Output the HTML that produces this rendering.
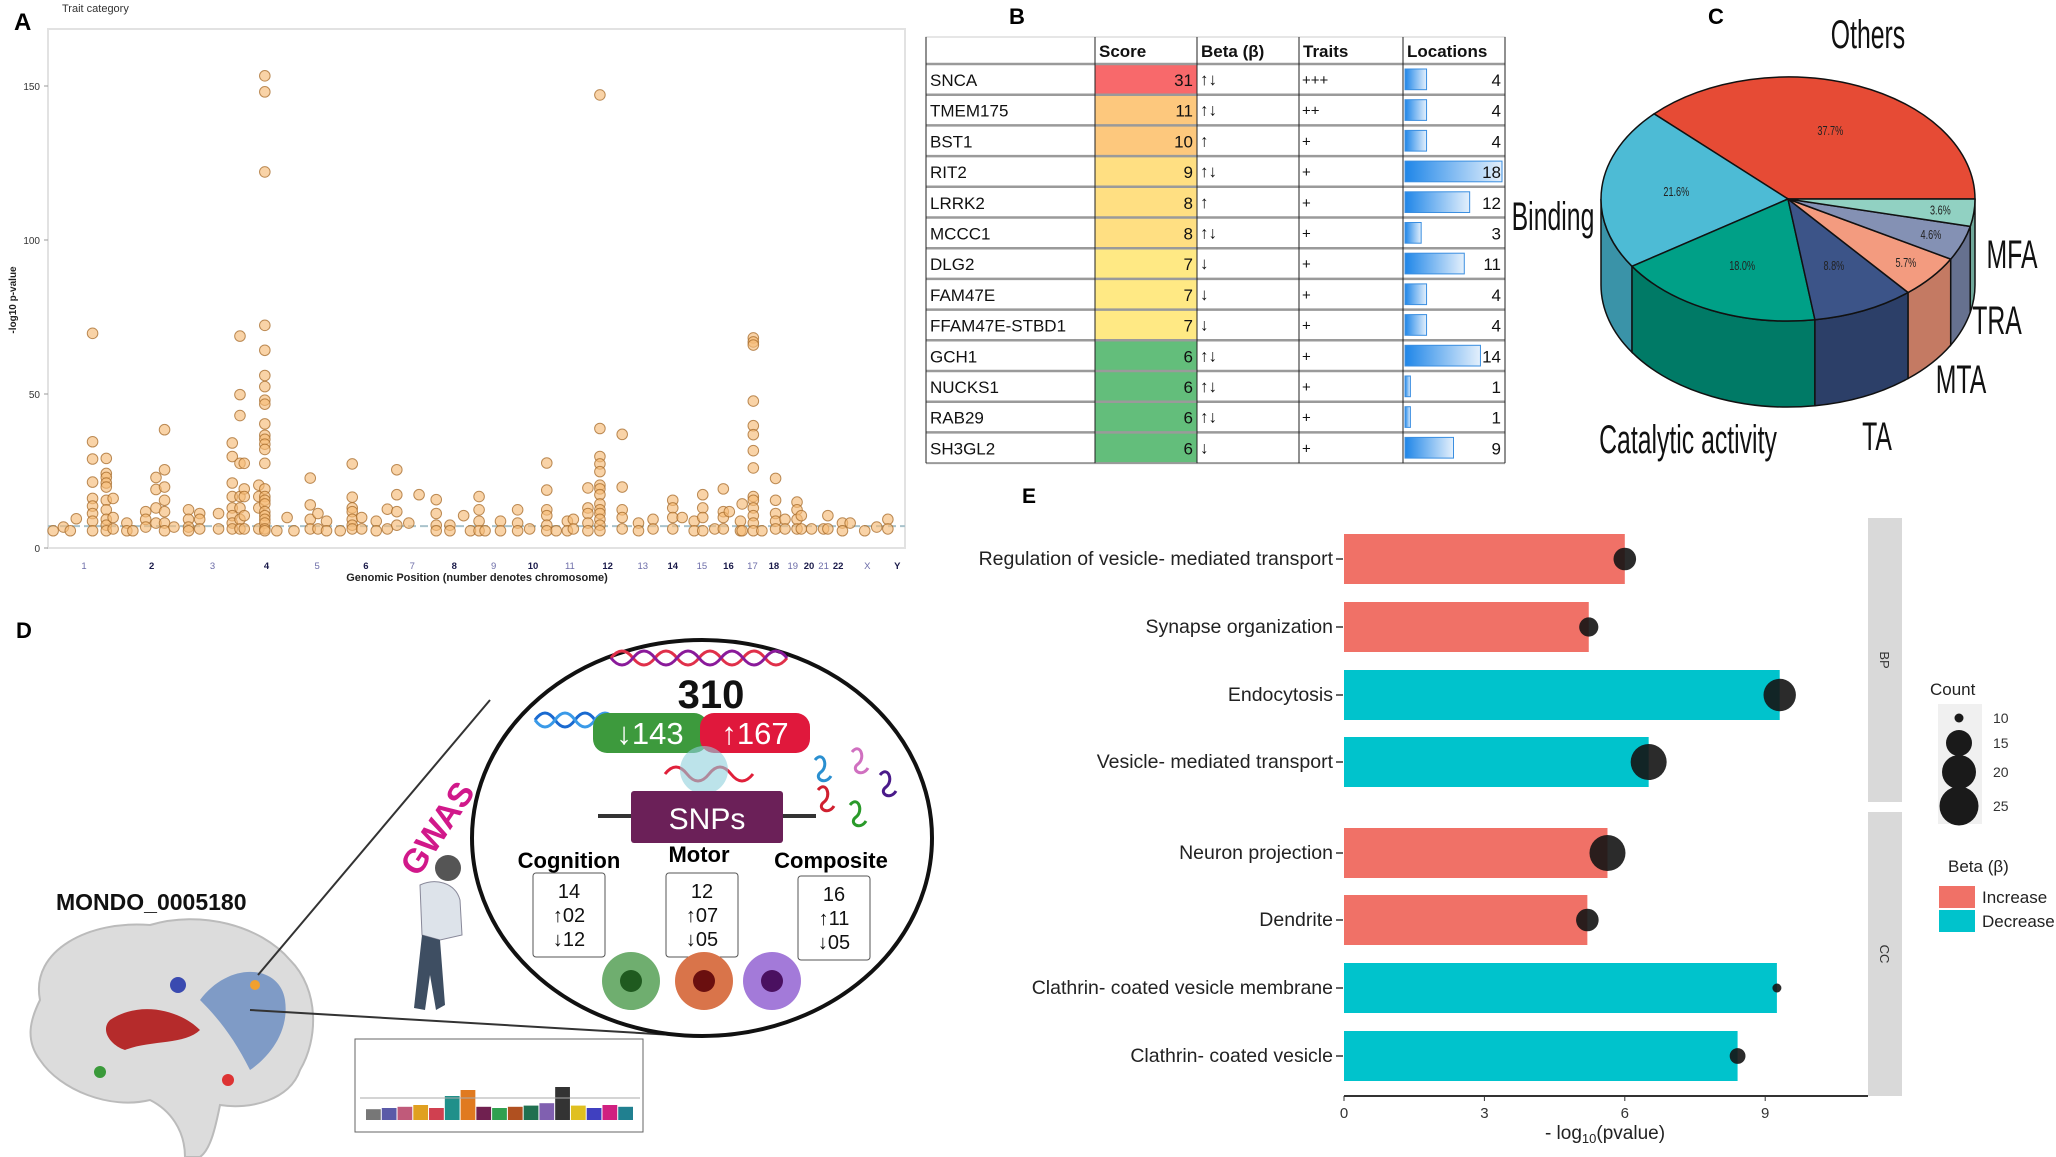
<!DOCTYPE html>
<html><head><meta charset="utf-8"><style>
html,body{margin:0;padding:0;background:#fff;}
svg{display:block;font-family:"Liberation Sans",sans-serif;}
</style></head><body>
<svg id="fig" width="2056" height="1157" viewBox="0 0 2056 1157">
<rect width="2056" height="1157" fill="#fff"/>
<text x="14" y="30" font-size="24" font-weight="bold">A</text>
<text x="62" y="12" font-size="11" fill="#333">Trait category</text>
<text x="1009" y="24" font-size="22" font-weight="bold">B</text>
<text x="1708" y="24" font-size="22" font-weight="bold">C</text>
<text x="16" y="638" font-size="22" font-weight="bold">D</text>
<text x="1022" y="503" font-size="21" font-weight="bold">E</text>

<g id="panelA"></g>
<g id="panelB"></g>
<g id="panelC"></g>
<g id="panelD">
  <path d="M40,1000 C30,950 90,920 150,925 C200,910 260,925 290,960 C320,990 318,1040 300,1070 C290,1100 250,1110 220,1105 C215,1130 210,1150 200,1157 L185,1157 C185,1130 170,1110 150,1100 C110,1110 60,1090 40,1060 C25,1040 30,1020 40,1000 Z" fill="#dcdcdc" stroke="#bbb" stroke-width="2"/>
  <path d="M200,1000 C230,960 280,965 285,1000 C290,1035 265,1060 250,1070 C235,1040 220,1020 200,1000 Z" fill="#6f8fc2" opacity="0.85"/>
  <path d="M110,1020 C140,1000 180,1010 200,1030 C185,1045 150,1040 125,1050 C110,1045 100,1030 110,1020 Z" fill="#b52b2b"/>
  <circle cx="178" cy="985" r="8" fill="#3a4ab0"/>
  <circle cx="100" cy="1072" r="6" fill="#3a9a3a"/>
  <circle cx="228" cy="1080" r="6" fill="#d33"/>
  <circle cx="255" cy="985" r="5" fill="#f0a030"/>
  <text x="56" y="910" font-size="23" font-weight="bold" fill="#111">MONDO_0005180</text>
  <line x1="258" y1="975" x2="490" y2="700" stroke="#333" stroke-width="2"/>
  <line x1="250" y1="1010" x2="690" y2="1036" stroke="#333" stroke-width="2"/>
  <text x="0" y="0" font-size="34" font-weight="bold" fill="#d1188a" transform="translate(418,878) rotate(-56)">GWAS</text>
  <circle cx="448" cy="868" r="13" fill="#555"/>
  <path d="M420,885 C435,878 455,882 460,900 L462,935 L440,940 L422,935 Z" fill="#dde3ea" stroke="#889"/>
  <path d="M422,935 L440,940 L445,1005 L436,1010 L430,975 L425,1010 L414,1008 Z" fill="#3e4e62"/>
  <ellipse cx="702" cy="838" rx="230" ry="198" fill="#fff" stroke="#111" stroke-width="4"/>
  <path d="M611,658 q11,-14 22,0 t22,0 t22,0 t22,0 t22,0 t22,0 t22,0 t22,0" fill="none" stroke="#e0304a" stroke-width="3"/>
  <path d="M611,658 q11,14 22,0 t22,0 t22,0 t22,0 t22,0 t22,0 t22,0 t22,0" fill="none" stroke="#8a1a9a" stroke-width="3"/>
  <path d="M535,720 q10,-14 20,0 t20,0 t20,0 t20,0" fill="none" stroke="#1a6ad0" stroke-width="3"/>
  <path d="M535,720 q10,14 20,0 t20,0 t20,0 t20,0" fill="none" stroke="#3a9ae8" stroke-width="3"/>
  <text x="711" y="708" font-size="40" font-weight="bold" text-anchor="middle" fill="#111">310</text>
  <rect x="593" y="713" width="115" height="40" rx="14" fill="#3d9a3d"/>
  <rect x="700" y="713" width="110" height="40" rx="14" fill="#e0183c"/>
  <text x="650" y="744" font-size="31" fill="#fff" text-anchor="middle">↓143</text>
  <text x="755" y="744" font-size="31" fill="#fff" text-anchor="middle">↑167</text>
  <path d="M665,774 q11,-14 22,0 t22,0 t22,0 t22,0" fill="none" stroke="#e0203a" stroke-width="3"/>
  <circle cx="704" cy="770" r="24" fill="#8fd0dc" opacity="0.6"/>
  <line x1="598" y1="816" x2="816" y2="816" stroke="#333" stroke-width="4"/>
  <rect x="631" y="791" width="152" height="52" rx="3" fill="#6b2058"/>
  <text x="707" y="829" font-size="30" fill="#fff" text-anchor="middle">SNPs</text>
  <text x="569" y="868" font-size="22" font-weight="bold" text-anchor="middle">Cognition</text>
  <text x="699" y="862" font-size="22" font-weight="bold" text-anchor="middle">Motor</text>
  <text x="831" y="868" font-size="22" font-weight="bold" text-anchor="middle">Composite</text>
  <g font-size="20" text-anchor="middle" fill="#111">
    <rect x="533" y="873" width="72" height="84" rx="3" fill="#fff" stroke="#555"/>
    <text x="569" y="898">14</text>
    <text x="569" y="922">↑02</text>
    <text x="569" y="946">↓12</text>
    <rect x="666" y="873" width="72" height="84" rx="3" fill="#fff" stroke="#555"/>
    <text x="702" y="898">12</text>
    <text x="702" y="922">↑07</text>
    <text x="702" y="946">↓05</text>
    <rect x="798" y="876" width="72" height="84" rx="3" fill="#fff" stroke="#555"/>
    <text x="834" y="901">16</text>
    <text x="834" y="925">↑11</text>
    <text x="834" y="949">↓05</text>
  </g>
  <circle cx="631" cy="981" r="29" fill="#6fae6f"/><circle cx="631" cy="981" r="11" fill="#1f5a1f"/>
  <circle cx="704" cy="981" r="29" fill="#d9744a"/><circle cx="704" cy="981" r="11" fill="#6a0f0f"/>
  <circle cx="772" cy="981" r="29" fill="#a37ad9"/><circle cx="772" cy="981" r="11" fill="#4a1060"/>
  <g fill="none" stroke-width="3">
    <path d="M815,760 c8,-10 14,6 6,12 c-8,6 4,14 10,4" stroke="#2a8fd0"/>
    <path d="M852,752 c8,-10 14,6 6,12 c-8,6 4,14 10,4" stroke="#d070c0"/>
    <path d="M818,790 c8,-10 14,6 6,12 c-8,6 4,14 10,4" stroke="#d02030"/>
    <path d="M880,775 c8,-10 14,6 6,12 c-8,6 4,14 10,4" stroke="#4a1a8a"/>
    <path d="M850,805 c8,-10 14,6 6,12 c-8,6 4,14 10,4" stroke="#2a9a2a"/>
  </g>
  <rect x="355" y="1039" width="288" height="93" fill="#fff" stroke="#666"/>
  <g id="miniBars"></g>
</g>
<g id="panelE"></g>
</svg>
<script>
const NS="http://www.w3.org/2000/svg";
function mk(parent,tag,attrs,text){const e=document.createElementNS(NS,tag);for(const k in attrs)e.setAttribute(k,attrs[k]);if(text!==undefined)e.textContent=text;parent.appendChild(e);return e;}

/* ================= Panel A: Manhattan ================= */
const chrLabels=["1","2","3","4","5","6","7","8","9","10","11","12","13","14","15","16","17","18","19","20","21","22","X","Y"];
const chrCenters=[4.2,12.1,19.2,25.5,31.4,37.1,42.5,47.4,52.0,56.6,60.9,65.3,69.4,72.9,76.3,79.4,82.2,84.7,86.9,88.8,90.5,92.2,95.6,99.1];
const yTicksA=[0,50,100,150];
const thresholdA=7.1;
const snpGroupPos=[0.6,1.8,2.6,3.3,5.2,6.8,7.6,9.2,9.9,11.4,12.6,13.6,14.7,16.4,17.7,19.9,21.5,22.4,22.9,24.6,25.3,26.7,27.9,28.7,30.6,31.5,32.5,34.1,35.5,36.6,38.3,39.6,40.7,42.1,43.3,45.3,46.9,48.5,49.3,50.3,51.0,52.8,54.8,56.2,58.2,59.3,60.6,61.3,63.0,64.4,67.0,68.9,70.6,72.9,74.0,75.4,76.4,77.8,78.8,79.5,80.8,81.0,82.3,83.3,84.9,86.0,87.4,87.9,89.1,90.5,91.0,92.7,93.6,95.3,96.7,98.0];
const snpGroupVals=[
[5.6],[6.8],[5.6],[9.5],
[69.7,34.5,28.9,21.4,16.1,13.6,11.2,8.7,5.6],
[29.1,24.2,22.9,21.1,19.8,15.5,12.4,9.3,7.4,5.6],
[16.1,9.9,6.2],[8.1,5.6],[5.6],
[11.8,9.3,6.8],[22.9,19.0,13.0,8.1],[38.4,25.4,19.8,15.5,11.8,8.1,5.6],[6.8],
[12.4,9.3,6.8,5.6],[11.2,9.3,6.2],[11.2,6.2],
[34.1,29.7,21.1,16.7,13.0,10.5,8.1,6.2],[68.8,49.8,43.0,27.5,16.7,13.0,9.3,6.2],[27.5,19.2,16.7,10.5,6.2],
[20.4,16.7,13.0,6.2],
[153.3,148.1,122.1,72.3,64.2,56.0,52.4,48.0,46.7,40.3,36.6,35.3,33.7,32.0,27.5,19.2,16.7,15.5,14.3,11.8,10.5,9.3,8.1,6.2,5.6],
[5.6],[9.9],[5.6],
[22.7,14.0,9.3,6.2],[11.2,6.2],[8.7,5.6],[5.6],
[27.3,16.5,13.0,11.8,9.3,7.4,6.2],[9.9,6.2],[8.7,5.6],[12.6,6.2],
[25.4,17.3,11.8,7.4],[8.1],[17.3],
[15.7,11.2,7.4,5.6],[7.4,5.6],[10.5],[5.6],[16.7,12.4,8.7,5.6],[5.6],
[8.7,5.6],[12.4,8.1,5.6],[6.2],
[27.6,18.8,12.4,10.5,7.4,5.6],[5.6],[8.7,5.6],[9.3,6.2],
[19.5,13.0,11.2,8.1,5.6],[147.1,38.8,29.7,27.3,24.8,20.4,19.2,17.3,14.3,12.4,11.2,9.3,7.4,5.6],[36.9,19.8,12.4,9.9,6.2],
[8.1,5.6],[9.3,6.2],
[15.5,13.0,9.9,6.2],[9.9],[8.7,5.6],[17.3,13.0,9.9,5.6],[6.2],
[19.2,11.8,9.9,6.2],[11.8],[8.7,5.6],[14.3,5.6],
[68.2,66.9,65.9,47.7,39.7,36.8,31.6,26.0,16.7,15.5,13.0,10.5,8.1,5.6],[5.6],
[22.6,15.5,11.2,8.7,6.2],[9.3,6.2],[14.9,12.4,9.3,6.2],[10.5,6.2],[6.2],
[6.2],[10.5,6.2],[8.1,5.6],[8.1],[5.6],[6.8],[9.3,6.2]
];
(function(){
  const g=document.getElementById('panelA');
  const L=48,R=905,T=29,B=548;
  const xA=v=>L+v*(R-L)/100;
  const yA=v=>B-v*3.08;
  const frame=mk(g,'rect',{x:L,y:T,width:R-L,height:B-T,fill:'#fff',stroke:'#e2e2e2','stroke-width':2});
  
  
  yTicksA.forEach(t=>{
    const tl=mk(g,'text',{x:L-8,y:yA(t)+4,'font-size':10,'text-anchor':'end',fill:'#333'},String(t));
    
    
    const tk=mk(g,'line',{x1:L-4,x2:L,y1:yA(t),y2:yA(t),stroke:'#999'});
    
    
  });
  const th=mk(g,'line',{x1:L,x2:R,y1:yA(thresholdA),y2:yA(thresholdA),stroke:'#a9c3cc','stroke-width':2,'stroke-dasharray':'8,4'});
  
  
  snpGroupPos.forEach((p,i)=>{
    snpGroupVals[i].forEach(v=>{
      const c=mk(g,'circle',{cx:xA(p),cy:yA(v),r:5.3,fill:'rgba(246,188,120,0.65)',stroke:'rgba(165,105,40,0.75)','stroke-width':1});
      
      
    });
  });
  chrLabels.forEach((c,i)=>{
    const bold=i%2===1;
    const t=mk(g,'text',{x:xA(chrCenters[i]),y:569,'font-size':9.5,'text-anchor':'middle',fill:bold?'#1a1a4a':'#6c6ca8','font-weight':bold?'bold':'normal'},c);
    
    
  });
  const xt=mk(g,'text',{x:477,y:581,'font-size':11,'font-weight':'bold','text-anchor':'middle',fill:'#222'},'Genomic Position (number denotes chromosome)');
  
  
  const yt=mk(g,'text',{x:0,y:0,'font-size':10,'font-weight':'bold','text-anchor':'middle',fill:'#222',transform:'translate(16,300) rotate(-90)'},'-log10 p-value');
  
  
})();

/* ================= Panel B: table ================= */
const geneNames=["SNCA","TMEM175","BST1","RIT2","LRRK2","MCCC1","DLG2","FAM47E","FFAM47E-STBD1","GCH1","NUCKS1","RAB29","SH3GL2"];
const geneScores=[31,11,10,9,8,8,7,7,7,6,6,6,6];
const geneBeta=["↑↓","↑↓","↑","↑↓","↑","↑↓","↓","↓","↓","↑↓","↑↓","↑↓","↓"];
const geneTraits=["+++","++","+","+","+","+","+","+","+","+","+","+","+"];
const geneLocations=[4,4,4,18,12,3,11,4,4,14,1,1,9];
const tableHeaders=["","Score","Beta (β)","Traits","Locations"];
(function(){
  const g=document.getElementById('panelB');
  const cols=[926,1095,1197,1299,1403,1505];
  const top=37,hb=64,rh=30.7;
  const scoreColor=s=>s>=30?'#f8696b':s>=10?'#fdc87d':s>=8?'#ffdf82':s>=7?'#ffe984':'#63be7b';
  const hdr=mk(g,'rect',{x:cols[0],y:top,width:cols[5]-cols[0],height:hb-top,fill:'#fff',stroke:'#ccc'});
  
  
  tableHeaders.forEach((h,i)=>{
    if(!h)return;
    const t=mk(g,'text',{x:cols[i]+4,y:top+20,'font-size':17,'font-weight':'bold',fill:'#111'},h);
    
    
  });
  geneNames.forEach((n,i)=>{
    const y=hb+i*rh;
    const sc=mk(g,'rect',{x:cols[1],y:y,width:cols[2]-cols[1],height:rh,fill:scoreColor(geneScores[i])});
    
    
    const bw=geneLocations[i]/18*97;
    const bar=mk(g,'rect',{x:cols[4]+2,y:y+5,width:bw,height:rh-10,fill:'url(#blueGrad)',stroke:'#3a8ee0','stroke-width':1});
    
    
    const tn=mk(g,'text',{x:cols[0]+4,y:y+22,'font-size':17,fill:'#111'},n);
    
    
    const ts=mk(g,'text',{x:cols[2]-4,y:y+22,'font-size':17,'text-anchor':'end',fill:'#111'},String(geneScores[i]));
    
    
    const tb=mk(g,'text',{x:cols[2]+3,y:y+21,'font-size':17,fill:'#111'},geneBeta[i]);
    
    
    const tt=mk(g,'text',{x:cols[3]+3,y:y+21,'font-size':15,fill:'#111'},geneTraits[i]);
    
    
    const tl=mk(g,'text',{x:cols[5]-4,y:y+22,'font-size':17,'text-anchor':'end',fill:'#111'},String(geneLocations[i]));
    
    
    const ln=mk(g,'line',{x1:cols[0],x2:cols[5],y1:y,y2:y,stroke:'#9a9a9a','stroke-width':2.5});
    
    
  });
  const bot=hb+geneNames.length*rh;
  const bl=mk(g,'line',{x1:cols[0],x2:cols[5],y1:bot,y2:bot,stroke:'#9a9a9a','stroke-width':2});
  
  
  cols.forEach(cx=>{
    const v=mk(g,'line',{x1:cx,x2:cx,y1:top,y2:bot,stroke:'#222','stroke-width':1});
    
    
  });
  const defs=mk(document.getElementById('fig'),'defs',{});
  const lg=mk(defs,'linearGradient',{id:'blueGrad',x1:0,x2:1,y1:0,y2:0});
  mk(lg,'stop',{offset:'0','stop-color':'#1f86e8'});
  mk(lg,'stop',{offset:'1','stop-color':'#e4f0fc'});
})();

/* ================= Panel C: 3D pie ================= */
const pieCategories=["Others","Binding","Catalytic activity","TA","MTA","TRA","MFA"];
const pieValues=[37.7,21.6,18.0,8.8,5.7,4.6,3.6];
const pieTop=["#e64b35","#4dbbd5","#00a087","#3c5488","#f39b7f","#8491b4","#91d1c2"];
const pieSide=["#b53a28","#3a93a8","#007a66","#2c3f68","#c47a63","#66718f","#6fa89a"];
(function(){
  const g=document.getElementById('panelC');
  const cx=1788,cy=199,rx=187,ry=122,depth=86;
  const P=(a,dy=0)=>[cx+rx*Math.cos(a*Math.PI/180),cy-ry*Math.sin(a*Math.PI/180)+dy];
  const total=pieValues.reduce((a,b)=>a+b,0);
  let s=0;const segs=[];
  pieValues.forEach(v=>{const e=s+v/total*360;segs.push([s,e]);s=e;});
  segs.forEach(([a0,a1],i)=>{
    const a=Math.max(a0,180),b=Math.min(a1,360);
    if(b<=a)return;
    const p1=P(a),p2=P(b),p3=P(b,depth),p4=P(a,depth);
    const d=`M${p1} A${rx},${ry} 0 0 0 ${p2} L${p3} A${rx},${ry} 0 0 1 ${p4} Z`;
    const side=mk(g,'path',{d:d,fill:pieSide[i],stroke:'#111','stroke-width':1.5});
    
    
  });
  segs.forEach(([a0,a1],i)=>{
    const p1=P(a0),p2=P(a1);
    const large=(a1-a0)>180?1:0;
    const d=`M${cx},${cy} L${p1} A${rx},${ry} 0 ${large} 0 ${p2} Z`;
    const sl=mk(g,'path',{d:d,fill:pieTop[i],stroke:'#111','stroke-width':1.5});
    
    
    const m=(a0+a1)/2;const rr=i>=4?0.82:0.6;
    const lx=cx+rx*rr*Math.cos(m*Math.PI/180),ly=cy-ry*rr*Math.sin(m*Math.PI/180);
    const t=mk(g,'text',{x:0,y:0,'font-size':13,'text-anchor':'middle',fill:'#222',transform:`translate(${lx},${ly+4}) scale(0.7,1)`},pieValues[i].toFixed(1)+'%');
    
    
  });
  const labelPos=[[1868,48],[1553,230],[1688,453],[1877,450],[1961,393],[1997,334],[2012,268]];
  pieCategories.forEach((c,i)=>{
    const t=mk(g,'text',{x:0,y:0,'font-size':40,'text-anchor':'middle',fill:'#111',transform:`translate(${labelPos[i][0]},${labelPos[i][1]}) scale(0.62,1)`},c);
    
    
  });
})();

/* ================= Mini manhattan in D ================= */
const miniColors=["#777","#5a5aa8","#c05a7a","#e0a020","#d04050","#20908a","#e07a20","#702050","#30a050","#b05020","#207050","#8060b0","#333","#e0c020","#4040c0","#d02080","#208090"];
const miniHeights=[18,20,22,25,20,40,50,22,20,22,24,28,55,24,20,25,22];
(function(){
  const g=document.getElementById('miniBars');
  const w=268/miniColors.length;
  miniColors.forEach((c,i)=>{
    const h=miniHeights[i];
    const r=mk(g,'rect',{x:366+i*w,y:1120-h*0.6,width:w-1,height:h*0.6,fill:c});
    
    
  });
  const l=mk(g,'line',{x1:360,x2:640,y1:1098,y2:1098,stroke:'#aaa'});
  
  
})();

/* ================= Panel E: enrichment bars ================= */
const termLabels=["Regulation of vesicle- mediated transport","Synapse organization","Endocytosis","Vesicle- mediated transport","Neuron projection","Dendrite","Clathrin- coated vesicle membrane","Clathrin- coated vesicle"];
const termValues=[6.0,5.23,9.31,6.51,5.63,5.2,9.25,8.41];
const termCounts=[14,13,19,22,22,14,10,12];
const termBeta=["Increase","Increase","Decrease","Decrease","Increase","Increase","Decrease","Decrease"];
const facetNames=["BP","CC"];
const xTicksE=[0,3,6,9];
const countLegend=[10,15,20,25];
const countDiam=[9,26,34,39];
(function(){
  const g=document.getElementById('panelE');
  const x0=1344,unit=46.8;
  const xE=v=>x0+v*unit;
  const rowY=[559,627,695,762,853,920,988,1056];
  const betaCol={Increase:'#f07167',Decrease:'#00c3cc'};
  const diam=c=>{for(let i=0;i<countLegend.length-1;i++){if(c<=countLegend[i+1]){const f=(c-countLegend[i])/(countLegend[i+1]-countLegend[i]);return countDiam[i]+f*(countDiam[i+1]-countDiam[i]);}}return countDiam[countDiam.length-1];};
  [[518,802],[812,1096]].forEach((r,i)=>{
    const s=mk(g,'rect',{x:1868,y:r[0],width:34,height:r[1]-r[0],fill:'#d9d9d9'});
    
    
    const t=mk(g,'text',{x:0,y:0,'font-size':13,'text-anchor':'middle',fill:'#333',transform:`translate(1880,${(r[0]+r[1])/2}) rotate(90)`},facetNames[i]);
    
    
  });
  termLabels.forEach((lab,i)=>{
    const y=rowY[i];
    const b=mk(g,'rect',{x:x0,y:y-25,width:xE(termValues[i])-x0,height:50,fill:betaCol[termBeta[i]]});
    
    
    const c=mk(g,'circle',{cx:xE(termValues[i]),cy:y,r:diam(termCounts[i])/2,fill:'rgba(20,20,20,0.9)'});
    
    
    const t=mk(g,'text',{x:1333,y:y+6,'font-size':19.5,'text-anchor':'end',fill:'#222'},lab);
    
    
    const tk=mk(g,'line',{x1:1336,x2:1343,y1:y,y2:y,stroke:'#333','stroke-width':1.5});
    
    
  });
  const ax=mk(g,'line',{x1:x0,x2:1868,y1:1096,y2:1096,stroke:'#333','stroke-width':2});
  
  
  xTicksE.forEach(t=>{
    const tk=mk(g,'line',{x1:xE(t),x2:xE(t),y1:1096,y2:1101,stroke:'#333'});
    
    
    const tl=mk(g,'text',{x:xE(t),y:1118,'font-size':15,'text-anchor':'middle',fill:'#333'},String(t));
    
    
  });
  const xt=mk(g,'text',{x:1605,y:1139,'font-size':19,'text-anchor':'middle',fill:'#222'});
  
  
  xt.innerHTML='- log<tspan font-size="13" dy="4">10</tspan><tspan dy="-4">(pvalue)</tspan>';
  const lc=mk(g,'text',{x:1930,y:695,'font-size':17,fill:'#222'},'Count');
  
  
  const lb=mk(g,'rect',{x:1938,y:704,width:44,height:120,fill:'#f0f0f0'});
  
  
  const ly=[718,743,772,806];
  countLegend.forEach((c,i)=>{
    const k=mk(g,'circle',{cx:1959,cy:ly[i],r:diam(c)/2,fill:'#1a1a1a'});
    
    
    const t=mk(g,'text',{x:1993,y:ly[i]+5,'font-size':14,fill:'#333'},String(c));
    
    
  });
  const bt=mk(g,'text',{x:1948,y:872,'font-size':17,fill:'#222'},'Beta (β)');
  
  
  ["Increase","Decrease"].forEach((k,i)=>{
    const r=mk(g,'rect',{x:1939,y:886+i*24,width:36,height:22,fill:betaCol[k]});
    
    
    const t=mk(g,'text',{x:1982,y:903+i*24,'font-size':17,fill:'#222'},k);
    
    
  });
})();
</script>
</body></html>
